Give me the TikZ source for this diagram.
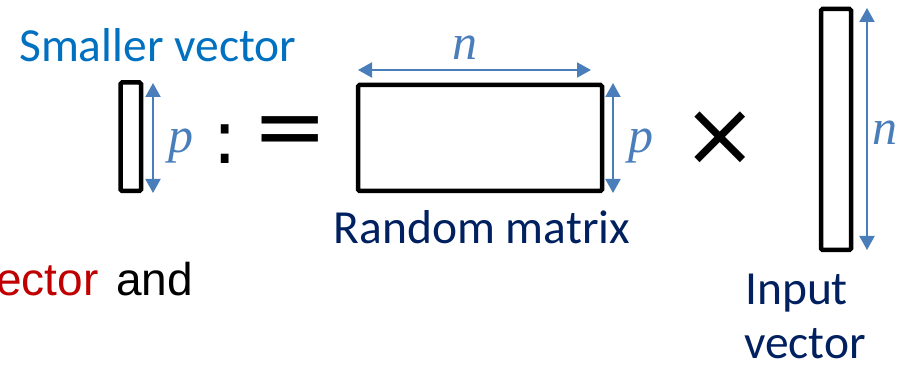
\documentclass[tikz,border=0pt]{standalone}
\usepackage{fontspec}
\setmainfont{Carlito}
\newfontfamily\symfont{DejaVu Sans}
\newfontfamily\arialfont{Liberation Sans}
\newfontfamily\timesfont{Liberation Serif}
\usetikzlibrary{arrows.meta}
\definecolor{lblue}{HTML}{0070C0}
\definecolor{navy}{HTML}{002060}
\definecolor{dimblue}{HTML}{4A7EBB}
\definecolor{dred}{HTML}{C00000}
\tikzset{
  box/.style={draw=black, line width=4.5pt, rounded corners=1.5pt, inner sep=0pt, outer sep=0pt},
  dimarrow/.style={draw=dimblue, line width=2pt, {Triangle[width=15pt,length=14pt]}-{Triangle[width=15pt,length=14pt]}},
  dimlabel/.style={text=dimblue, inner sep=0pt, anchor=base, font=\fontsize{50}{54}\selectfont\timesfont\itshape},
  bigtext/.style={inner sep=0pt, font=\fontsize{47.5}{53}\selectfont},
  symtext/.style={inner sep=0pt, anchor=center, font=\fontsize{#1}{#1}\selectfont\symfont},
}
\begin{document}
\begin{tikzpicture}[x=1pt,y=1pt]
\useasboundingbox (0,0) rectangle (900,-366);
% title
\node[bigtext, text=lblue, anchor=base west] (title) at (19,-62) {Smaller vector};
% small vector
\node[box, minimum width=20.5pt, minimum height=108.5pt] (sv) at (130.75,-136.75) {};
\coordinate (sva) at (153,-83);
\coordinate (svb) at (153,-193);
\draw[dimarrow] (sva) -- (svb);
\node[dimlabel] (svp) at (181,-153) {p};
% :=
\node[symtext=75] (colon) at (225.5,-144) {:};
\node[symtext=90] (eq) at (290,-137.5) {=};
% matrix
\node[box, minimum width=244pt, minimum height=106pt] (mat) at (480,-138) {};
\coordinate (mta) at (358,-70);
\coordinate (mtb) at (591,-70);
\draw[dimarrow] (mta) -- (mtb);
\node[dimlabel] (mn) at (465,-60) {n};
\coordinate (mra) at (613,-83);
\coordinate (mrb) at (613,-193);
\draw[dimarrow] (mra) -- (mrb);
\node[dimlabel] (mp) at (641,-153) {p};
\node[bigtext, text=navy, anchor=base] (rm) at (482,-244) {Random matrix};
% times
\node[symtext=90] (times) at (720.5,-139) {×};
% input vector
\node[box, minimum width=30pt, minimum height=241pt] (iv) at (836,-129.5) {};
\coordinate (iva) at (867,-8);
\coordinate (ivb) at (867,-250);
\draw[dimarrow] (iva) -- (ivb);
\node[dimlabel] (ivn) at (885,-145) {n};
\node[bigtext, text=navy, anchor=base west] (in1) at (745,-305) {Input};
\node[bigtext, text=navy, anchor=base west] (in2) at (744,-358) {vector};
% text cut at the left edge, as in the reference
\node[inner sep=0pt, anchor=base west, font=\fontsize{46}{53}\selectfont\arialfont] (cut) at (-4,-295) {\textcolor{dred}{ector}\hspace{5pt} and};
\end{tikzpicture}
\end{document}
